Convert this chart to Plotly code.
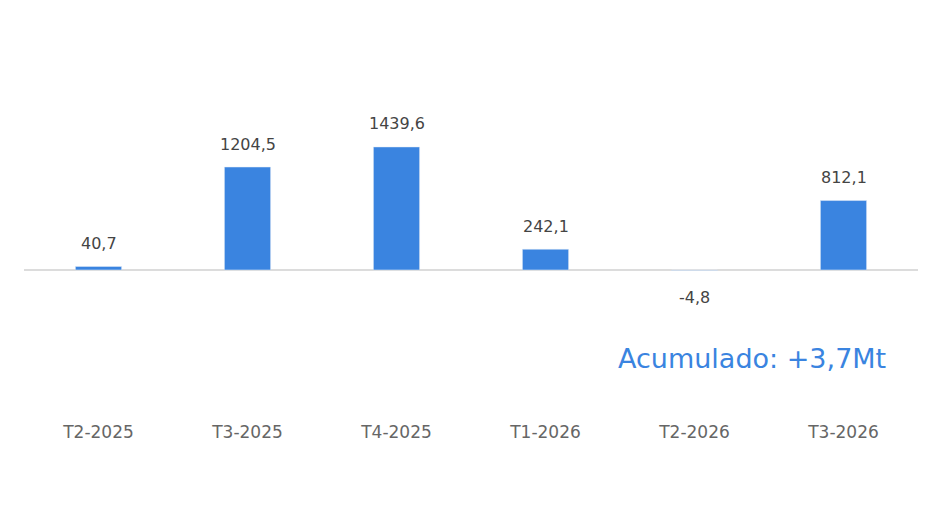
import plotly.graph_objects as go

categories = ["T2-2025", "T3-2025", "T4-2025", "T1-2026", "T2-2026", "T3-2026"]
values = [40.7, 1204.5, 1439.6, 242.1, -4.8, 812.1]
total_label = "Acumulado: +3,7Mt"

bar_color = "#3A84E0"
font_family = "DejaVu Sans, Open Sans, sans-serif"

fig = go.Figure()
fig.add_trace(go.Bar(
    x=categories, y=values, marker_color=bar_color, width=0.31,
    hoverinfo="skip",
))

for c, v in zip(categories, values):
    fig.add_annotation(
        x=c, y=v, text=f"{v:.1f}".replace(".", ","),
        showarrow=False, yshift=23 if v >= 0 else -27,
        font=dict(family=font_family, size=16, color="#444444"),
    )

fig.add_annotation(
    xref="paper", yref="paper", x=0.966, y=0.17, xanchor="right", yanchor="middle",
    text=total_label, showarrow=False,
    font=dict(family=font_family, size=27, color=bar_color),
)

fig.update_layout(
    width=940, height=530,
    margin=dict(l=16, r=30, t=52, b=118),
    paper_bgcolor="white", plot_bgcolor="white",
    showlegend=False,
    bargap=0.69,
    xaxis=dict(showgrid=False, showline=False, ticks="",
               tickfont=dict(family=font_family, size=17, color="#666666")),
    yaxis=dict(range=[-1756, 2457], showgrid=False, showticklabels=False,
               zeroline=True, zerolinecolor="#DCDCDC", zerolinewidth=1.5),
)

fig.write_html("out.html")
